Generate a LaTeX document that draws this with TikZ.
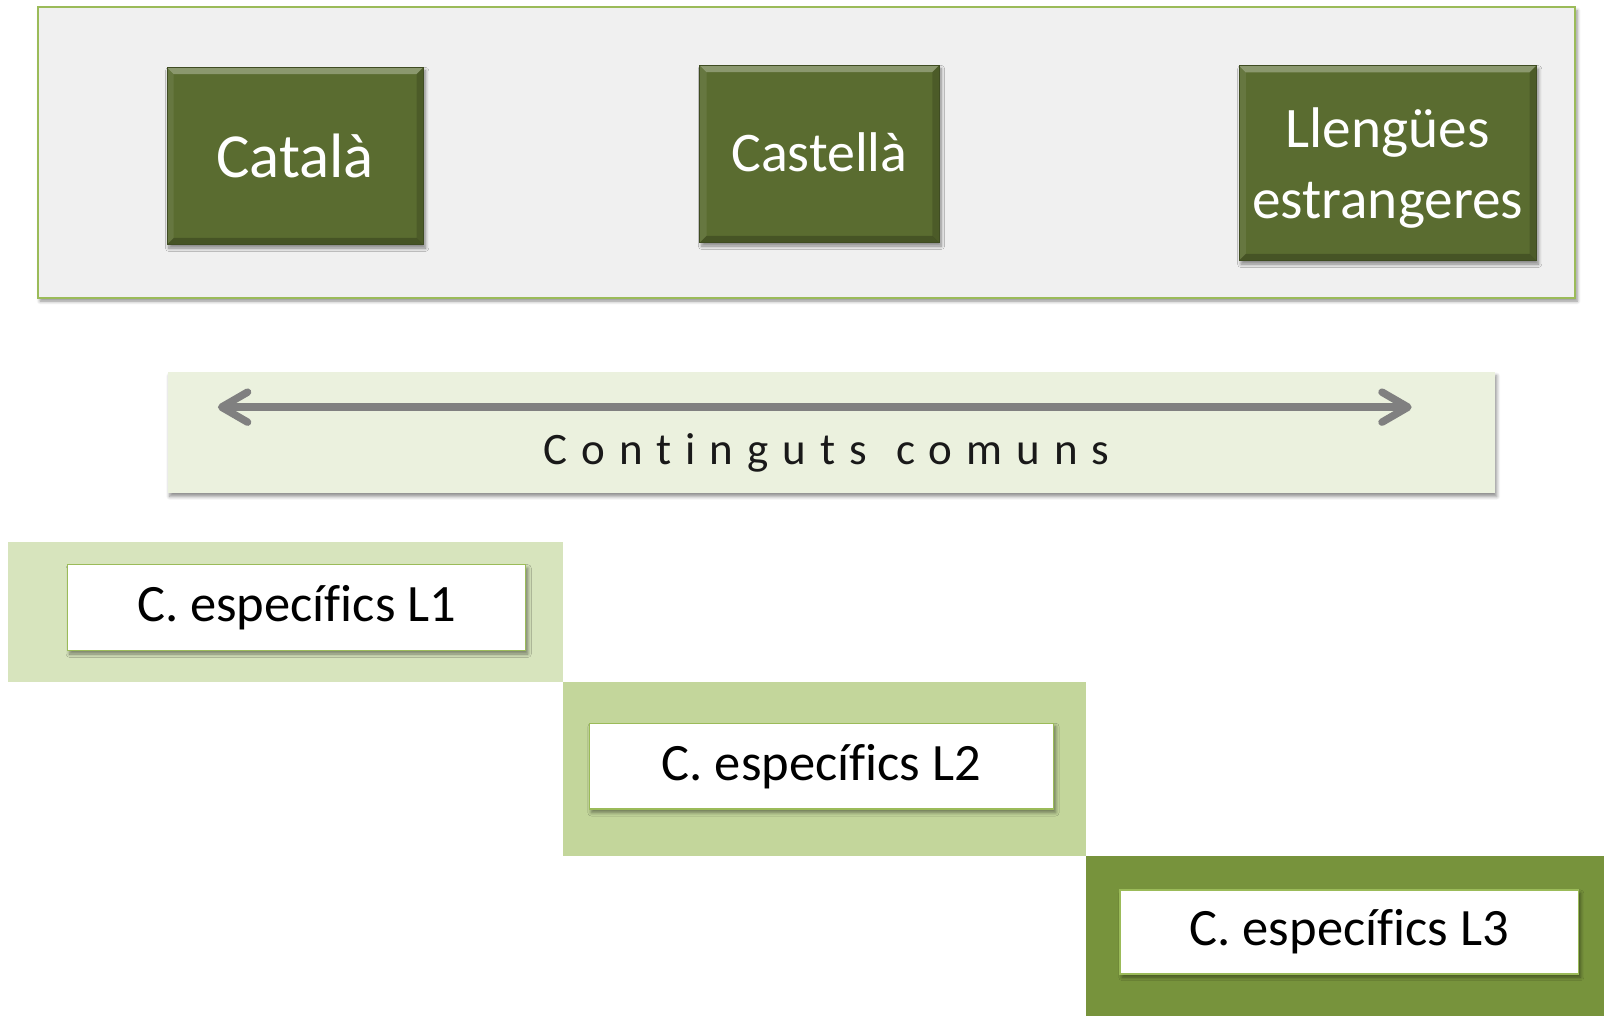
\documentclass[tikz,border=0pt]{standalone}
\usepackage{fontspec}
\setmainfont{Carlito}[Ligatures={NoCommon}]
\usetikzlibrary{arrows.meta,shadows.blur}

\definecolor{framegreen}{RGB}{155,187,89}
\definecolor{framefill}{RGB}{240,240,240}
\definecolor{langgreen}{RGB}{90,108,48}
\definecolor{bandfill}{RGB}{235,241,222}
\definecolor{stepone}{RGB}{215,228,189}
\definecolor{steptwo}{RGB}{195,214,155}
\definecolor{stepthree}{RGB}{119,147,60}
\definecolor{arrowgray}{RGB}{128,128,128}

\tikzset{
  softshadow/.style={blur shadow={shadow xshift=1.5pt, shadow yshift=-2.5pt, shadow blur steps=6, shadow blur radius=2.5pt, shadow opacity=45}},
  bevel/.style={path picture={
      \fill [white, opacity=0.3] (path picture bounding box.north west) -- (path picture bounding box.north east)
        -- ([xshift=-5pt,yshift=-5pt]path picture bounding box.north east) -- ([xshift=5pt,yshift=-5pt]path picture bounding box.north west) -- cycle;
      \fill [black, opacity=0.22] (path picture bounding box.south west) -- (path picture bounding box.south east)
        -- ([xshift=-5pt,yshift=5pt]path picture bounding box.south east) -- ([xshift=5pt,yshift=5pt]path picture bounding box.south west) -- cycle;
      \fill [black, opacity=0.15] (path picture bounding box.north east) -- (path picture bounding box.south east)
        -- ([xshift=-5pt,yshift=5pt]path picture bounding box.south east) -- ([xshift=-5pt,yshift=-5pt]path picture bounding box.north east) -- cycle;
      \fill [white, opacity=0.08] (path picture bounding box.north west) -- (path picture bounding box.south west)
        -- ([xshift=5pt,yshift=5pt]path picture bounding box.south west) -- ([xshift=5pt,yshift=-5pt]path picture bounding box.north west) -- cycle;}},
  langbox/.style={draw=langgreen!70!black, line width=0.6pt, fill=langgreen, text=white, align=center, inner sep=0pt, bevel, softshadow},
  specbox/.style={draw=framegreen, line width=1pt, fill=white, inner sep=0pt, minimum width=336pt, minimum height=63pt, font=\fontsize{38.5}{46}\selectfont, softshadow}
}

\begin{document}
\begin{tikzpicture}[x=0.75pt,y=0.75pt,yscale=-1,xscale=1]
%set diagram left start at 0, and has height of 993
\useasboundingbox (0,0) rectangle (1568,993);

%Shape: Rectangle (languages frame)
    \node [draw=framegreen, line width=1.2pt, fill=framefill, inner sep=0pt, minimum width=1127pt, minimum height=213pt, softshadow] (frame) at (788.5,149) {};
%Shape: Rectangle (language boxes)
    \node [langbox, minimum width=188pt, minimum height=130pt, font=\fontsize{46}{55}\selectfont] (catala) at (288.5,152.5) {Català};
    \node [langbox, minimum width=175.5pt, minimum height=130pt, font=\fontsize{41}{50}\selectfont] (castella) at (801,150.5) {\raisebox{1.5pt}[\height][\depth]{Castellà}};
    \node [langbox, minimum width=218pt, minimum height=143pt, font=\fontsize{42}{52}\selectfont] (llengues) at (1356.5,159.5)
      {\raisebox{-4pt}[\height][\depth]{\begin{tabular}{@{}c@{}}Llengües\\estrangeres\end{tabular}}};

%Shape: Rectangle (common contents band)
    \node [fill=bandfill, inner sep=0pt, minimum width=973pt, minimum height=88.5pt, softshadow] (comuns) at (812.5,423) {};
%Straight Lines
    \coordinate (arrowleft) at (213,398);
    \coordinate (arrowright) at (1380,398);
    \draw [arrowgray, line width=5.5pt, {Straight Barb[length=19pt, width=22pt, round]}-{Straight Barb[length=19pt, width=22pt, round]}] (arrowleft) -- (arrowright);
% Text Node
    \node [inner sep=0pt, text=black!90, font=\fontsize{33}{40}\selectfont\addfontfeature{LetterSpace=31}] (comunslabel) at (808,443) {Continguts\hspace{4pt} comuns};

%Shape: Rectangle (steps)
    \fill [stepone] (8,530) rectangle (550,667);
    \fill [steptwo] (550,667) rectangle (1062,837);
    \fill [stepthree] (1062,837) rectangle (1568,993);

%Shape: Rectangle (specific contents)
    \node [specbox] (specone) at (290,594) {C. específics L1};
    \node [specbox, minimum width=340.5pt] (spectwo) at (803,749) {C. específics L2};
    \node [specbox, minimum height=61.5pt] (specthree) at (1319,911) {C. específics L3};

\end{tikzpicture}
\end{document}
